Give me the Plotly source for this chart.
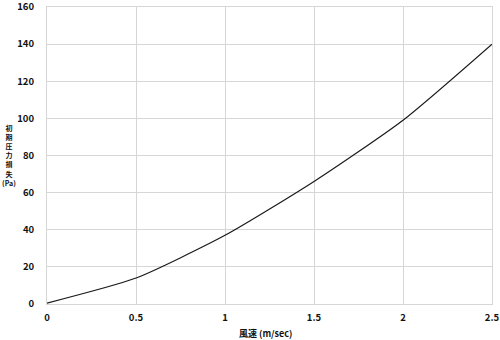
import plotly.graph_objects as go

wind_speed = [0, 0.5, 1.0, 1.5, 2.0, 2.5]
pressure_loss = [0.5, 14, 37, 66, 99, 140]
x_ticks = [0, 0.5, 1, 1.5, 2, 2.5]
x_tick_text = ["0", "0.5", "1", "1.5", "2", "2.5"]
y_ticks = [0, 20, 40, 60, 80, 100, 120, 140, 160]
y_title_chars = ["初", "期", "圧", "力", "損", "失", "(Pa)"]
x_title = "風速 (m/sec)"

W, H = 500, 340
ml, mr, mt, mb = 47, 8, 7, 36

fig = go.Figure()
fig.add_trace(go.Scatter(
    x=wind_speed, y=pressure_loss, mode="lines",
    line=dict(color="#1a1a1a", width=1.2, shape="spline", smoothing=0.6),
    hoverinfo="skip", showlegend=False, cliponaxis=False,
))

font = "Noto Sans CJK JP"
tick_font = dict(size=9.5, color="#111", family=font, weight="bold")
fig.update_layout(
    width=W, height=H,
    margin=dict(l=ml, r=mr, t=mt, b=mb),
    paper_bgcolor="white", plot_bgcolor="white",
    font=dict(family=font, size=10, color="#111"),
    showlegend=False,
    xaxis=dict(range=[0, 2.5], tickvals=x_ticks, ticktext=x_tick_text,
               showgrid=True, gridcolor="#d6d6d6", gridwidth=1,
               zeroline=False, showline=True, linecolor="#d6d6d6", mirror=True,
               ticks="", ticklabelstandoff=5, fixedrange=True, automargin=False,
               ticklabeloverflow="allow", tickfont=tick_font),
    yaxis=dict(range=[0, 160], tickvals=y_ticks,
               showgrid=True, gridcolor="#d6d6d6", gridwidth=1,
               zeroline=False, showline=True, linecolor="#d6d6d6", mirror=True,
               ticks="", ticklabelstandoff=10, fixedrange=True, automargin=False,
               ticklabeloverflow="allow", tickfont=tick_font),
)

plot_h = H - mt - mb
ann = [dict(text="<br>".join(y_title_chars), xref="paper", yref="paper",
            x=(9 - ml) / (W - ml - mr), y=(H - mb - 155) / plot_h,
            xanchor="center", yanchor="middle", showarrow=False,
            font=dict(size=7, color="#111", family=font, weight="bold"))]
ann.append(dict(text=x_title, xref="paper", yref="paper",
                x=(265 - ml) / (W - ml - mr), y=(H - mb - 333) / plot_h,
                xanchor="center", yanchor="middle", showarrow=False,
                font=dict(size=9, color="#111", family=font, weight="bold")))
fig.update_layout(annotations=ann)

fig.write_html("out.html")
